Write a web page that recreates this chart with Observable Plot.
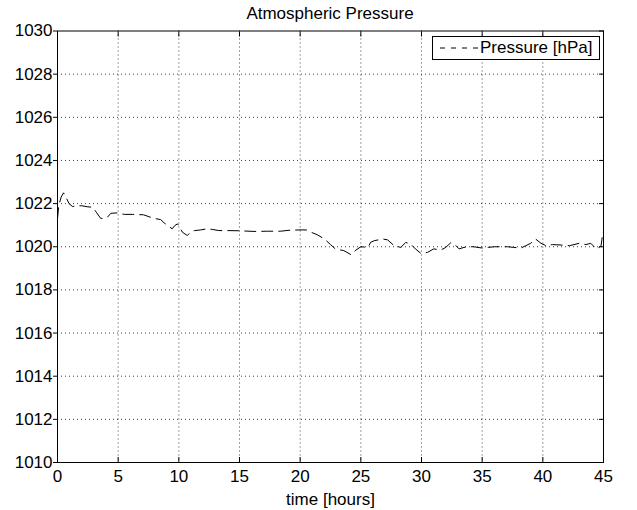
<!DOCTYPE html>
<html>
<head>
<meta charset="utf-8">
<script src="https://cdn.jsdelivr.net/npm/d3@7"></script>
<script src="https://cdn.jsdelivr.net/npm/@observablehq/plot@0.6"></script>
<style>
  html, body { margin: 0; padding: 0; background: #fff; }
  #wrap { position: relative; width: 637px; height: 510px; font-family: "Liberation Sans", Arial, Helvetica, sans-serif; overflow: hidden; background: #fff; }
  #title { position: absolute; left: 57px; width: 546px; top: 0; height: 20px; line-height: 28px; text-align: center; font-size: 17px; color: #000; z-index: 2; }
  #chart { position: absolute; left: 0; top: 20px; z-index: 1; }
  #legend { position: absolute; left: 432px; top: 36px; width: 168px; height: 24px; border: 1px solid #000; background: #fff; box-sizing: border-box; display: flex; align-items: center; font-size: 17px; color: #000; white-space: nowrap; z-index: 3; }
  #legend svg { margin-left: 7px; margin-right: 2px; flex: none; }
</style>
</head>
<body>
<div id="wrap">
  <div id="title">Atmospheric Pressure</div>
  <div id="chart"></div>
  <div id="legend"><svg width="38" height="10"><line x1="0" y1="5" x2="38" y2="5" stroke="#000" stroke-width="1" stroke-dasharray="5,6"></line></svg><span>Pressure [hPa]</span></div>
</div>
<script>
const seriesName = "Pressure [hPa]";
const timeHours = [0, 0.1, 0.3, 0.5, 0.7, 0.95, 1.25, 1.6, 2.0, 2.5, 2.9, 3.2, 3.55, 3.85, 4.1, 4.4, 4.95, 5.5, 6.2, 7.1, 7.7, 8.1, 8.5, 8.8, 9.1, 9.45, 9.7, 9.9, 10.3, 10.7, 11.0, 11.3, 11.8, 12.3, 12.8, 13.3, 13.9, 15.0, 16.2, 17.3, 18.4, 19.0, 19.9, 20.5, 20.9, 21.4, 22.0, 22.5, 22.9, 23.6, 24.2, 24.6, 25.0, 25.6, 25.8, 26.1, 26.8, 27.2, 27.75, 28.3, 28.7, 29.1, 29.5, 29.95, 30.5, 31.0, 31.6, 32.0, 32.4, 32.7, 33.1, 33.5, 33.9, 34.3, 35.0, 35.5, 36.0, 37.1, 37.6, 38.2, 38.6, 39.0, 39.4, 39.85, 40.25, 40.8, 41.5, 42.2, 43.0, 43.55, 43.95, 44.4, 44.65, 44.8, 44.93, 45.0];
const pressure = [1021.3, 1021.9, 1022.3, 1022.5, 1022.3, 1022.0, 1021.86, 1021.9, 1021.9, 1021.85, 1021.83, 1021.6, 1021.32, 1021.3, 1021.36, 1021.55, 1021.57, 1021.5, 1021.5, 1021.48, 1021.36, 1021.3, 1021.26, 1021.1, 1020.98, 1020.83, 1021.0, 1021.06, 1020.67, 1020.52, 1020.7, 1020.75, 1020.78, 1020.83, 1020.8, 1020.75, 1020.75, 1020.74, 1020.71, 1020.72, 1020.72, 1020.76, 1020.78, 1020.78, 1020.67, 1020.56, 1020.36, 1020.1, 1019.9, 1019.82, 1019.63, 1019.85, 1020.0, 1019.97, 1020.2, 1020.28, 1020.36, 1020.32, 1020.05, 1019.97, 1020.2, 1020.13, 1019.9, 1019.69, 1019.74, 1019.9, 1019.85, 1019.97, 1020.18, 1020.13, 1019.9, 1019.97, 1020.0, 1020.0, 1019.94, 1019.97, 1020.0, 1020.0, 1019.97, 1019.94, 1020.05, 1020.16, 1020.36, 1020.16, 1020.05, 1020.1, 1020.08, 1020.05, 1020.16, 1020.1, 1020.16, 1019.9, 1019.97, 1020.05, 1020.6, 1020.7];
const xTicks = [0, 5, 10, 15, 20, 25, 30, 35, 40, 45];
const yTicks = [1010, 1012, 1014, 1016, 1018, 1020, 1022, 1024, 1026, 1028, 1030];
const xDomain = [0, 45];
const yDomain = [1010, 1030];
const xLabel = "time [hours]";

const data = timeHours.map((t, i) => ({t, p: pressure[i]}));
const innerX = xTicks.filter(v => v !== xDomain[0] && v !== xDomain[1]);
const innerY = yTicks.filter(v => v !== yDomain[0] && v !== yDomain[1]);

const chart = Plot.plot({
  width: 637,
  height: 490,
  marginLeft: 57,
  marginRight: 34,
  marginTop: 10.5,
  marginBottom: 48,
  style: {fontFamily: '"Liberation Sans", Arial, Helvetica, sans-serif', fontSize: "17px", color: "#000", background: "transparent", overflow: "visible"},
  x: {domain: xDomain},
  y: {domain: yDomain},
  marks: [
    Plot.gridX(innerX, {stroke: "#000", strokeOpacity: 0.75, strokeDasharray: "1,3", strokeWidth: 1}),
    Plot.gridY(innerY, {stroke: "#000", strokeOpacity: 0.75, strokeDasharray: "1,3", strokeWidth: 1}),
    Plot.axisX(xTicks, {anchor: "bottom", tickSize: -5, tickPadding: 12, fontSize: 17, label: xLabel, labelAnchor: "center", labelArrow: "none", labelOffset: 42}),
    Plot.axisX(xTicks, {anchor: "top", tickSize: -5, tickFormat: () => "", label: null}),
    Plot.axisY(yTicks, {anchor: "left", tickSize: 4, tickPadding: 1, fontSize: 17, label: null, tickFormat: d => String(d)}),
    Plot.axisY(yTicks, {anchor: "right", tickSize: -5, tickFormat: () => "", label: null}),
    Plot.line(data, {x: "t", y: "p", stroke: "#000", strokeWidth: 1, strokeDasharray: "11,6"}),
    Plot.frame({stroke: "#000", strokeWidth: 1})
  ]
});
document.getElementById("chart").appendChild(chart);
</script>
</body>
</html>
